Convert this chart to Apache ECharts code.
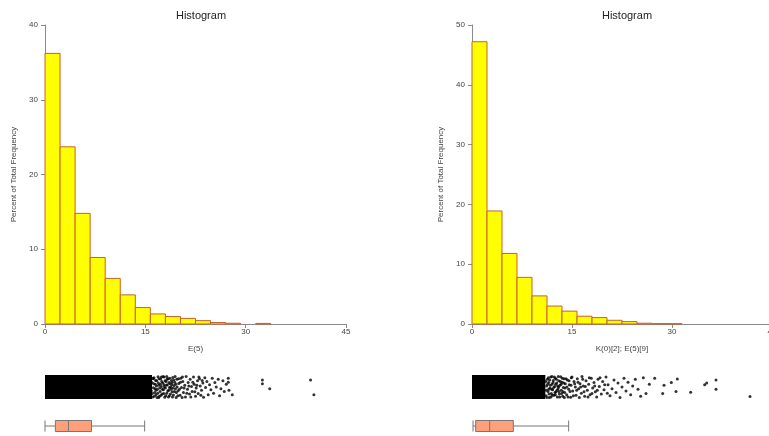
<!DOCTYPE html>
<html>
<head>
<meta charset="utf-8">
<script src="https://cdn.jsdelivr.net/npm/echarts@6/dist/echarts.min.js"></script>
<style>
html,body{margin:0;padding:0;background:#fff;}
#chart{width:769px;height:436px;}
</style>
</head>
<body>
<div id="chart"></div>
<script>
// ---------- DATA ----------
const binEdges = [0, 2.25, 4.5, 6.75, 9, 11.25, 13.5, 15.75, 18, 20.25, 22.5, 24.75, 27, 29.25, 31.5, 33.75];
const leftPercent = [36.2, 23.7, 14.8, 8.9, 6.1, 3.9, 2.2, 1.35, 1.0, 0.75, 0.45, 0.2, 0.1, 0, 0.08];
const rightPercent = [47.2, 18.9, 11.8, 7.8, 4.7, 3.0, 2.15, 1.3, 1.07, 0.62, 0.4, 0.13, 0.06, 0.06];
const xTicks = [0, 15, 30, 45];
const leftYTicks = [0, 10, 20, 30, 40];
const rightYTicks = [0, 10, 20, 30, 40, 50];
const leftXName = 'E(5)';
const rightXName = 'K(0)[2]; E(5)[9]';
const titleText = 'Histogram';
const yName = 'Percent of Total Frequency';

// box plot summaries [min, Q1, median, Q3, upper whisker]
const leftBox = [0, 1.55, 3.5, 6.95, 14.9];
const rightBox = [0.15, 0.55, 2.65, 6.2, 14.5];

// strip plot: the densely overplotted part [start, end], then individual points [value, jitter]
const leftDense = [0, 16.0];
const rightDense = [0, 11.0];
const leftPoints = [
 [15.6,0.12],[15.7,0.55],[15.8,0.83],[15.9,0.33],[16.0,0.70],[16.1,0.05],[16.2,0.47],[16.3,0.92],[16.4,0.25],[16.5,0.62],
 [16.6,0.15],[16.7,0.78],[16.8,0.40],[16.9,0.97],[17.0,0.58],[17.1,0.08],[17.2,0.30],[17.3,0.86],[17.4,0.52],[17.5,0.18],
 [17.6,0.68],[17.7,0.38],[17.8,0.95],[17.9,0.03],[18.0,0.45],[18.1,0.75],[18.2,0.22],[18.3,0.60],[18.4,0.88],[18.5,0.35],
 [18.6,0.10],[18.7,0.65],[18.8,0.50],[18.9,0.80],[19.0,0.28],[19.1,0.93],[19.2,0.14],[19.3,0.57],[19.4,0.72],[19.5,0.42],
 [19.6,0.02],[19.7,0.85],[16.2,0.88],[16.6,0.35],[17.0,0.02],[17.4,0.95],[17.8,0.60],[18.2,0.98],[18.6,0.48],[19.0,0.70],
 [16.05,0.20],[16.15,0.90],[16.25,0.65],[16.35,0.08],[16.45,0.42],[16.55,0.80],[16.65,0.55],[16.75,0.02],[16.85,0.22],[16.95,0.68],
 [17.05,0.88],[17.15,0.45],[17.25,0.62],[17.35,0.12],[17.45,0.75],[17.55,0.40],[17.65,0.98],[17.75,0.20],[17.85,0.50],[17.95,0.78],
 [18.05,0.10],[18.15,0.58],[18.25,0.85],[18.35,0.32],[18.45,0.05],[18.55,0.70],[18.65,0.90],[18.75,0.18],[18.85,0.40],[18.95,0.60],
 [19.05,0.05],[19.15,0.45],[19.25,0.82],[19.35,0.30],[19.45,0.98],[19.55,0.62],[19.65,0.25],[19.75,0.50],[19.85,0.10],[19.95,0.88],
 [20.1,0.40],[20.25,0.72],[20.5,0.02],[20.55,0.95],[20.8,0.45],[21.2,0.22],[21.5,0.55],[21.8,0.05],[22.1,0.72],[22.4,0.28],
 [22.7,0.58],[23.0,0.95],[23.3,0.12],[23.5,0.80],
 [19.9,0.33],[20.0,0.66],[20.2,0.12],[20.3,0.90],[20.4,0.48],[20.6,0.75],[20.7,0.25],[20.9,0.58],[21.0,0.05],[21.1,0.98],
 [21.3,0.40],[21.4,0.70],[21.6,0.18],[21.7,0.85],[21.9,0.52],[22.0,0.30],[22.2,0.95],[22.3,0.62],[22.5,0.08],[22.6,0.45],
 [22.8,0.78],[22.9,0.20],[23.1,0.88],[23.2,0.55],[23.4,0.35],[23.6,0.68],[23.7,0.03],[23.9,0.92],[24.0,0.48],
 [24.2,0.75],[24.4,0.15],[24.6,0.60],[24.8,0.38],[25.0,0.90],[25.2,0.22],[25.4,0.70],[25.6,0.50],[25.9,0.85],[26.1,0.10],
 [26.3,0.42],[26.6,0.78],[26.8,0.30],[27.1,0.62],[27.4,0.90],[27.4,0.72],[27.5,0.35],[28.0,0.15],
 [32.5,0.82],[32.5,0.65],[33.6,0.42],[39.7,0.82],[40.2,0.15]
];
const rightPoints = [
 [11.1,0.10],[11.2,0.55],[11.3,0.85],[11.4,0.30],[11.5,0.70],[11.6,0.02],[11.7,0.45],[11.8,0.95],[11.9,0.20],[12.0,0.62],
 [12.1,0.38],[12.2,0.80],[12.3,0.12],[12.4,0.52],[12.5,0.90],[12.6,0.28],[12.7,0.68],[12.8,0.05],[12.9,0.42],[13.0,0.78],
 [13.1,0.18],[13.2,0.58],[13.3,0.97],[13.4,0.35],[13.5,0.72],[13.6,0.08],[13.7,0.48],[13.8,0.88],[13.9,0.25],[14.0,0.65],
 [14.2,0.15],[14.3,0.82],[14.5,0.40],[14.6,0.60],[14.8,0.03],[14.9,0.92],[11.5,0.40],[12.0,0.98],[12.5,0.15],[13.0,0.50],
 [11.05,0.75],[11.15,0.35],[11.25,0.02],[11.35,0.62],[11.45,0.92],[11.55,0.18],[11.65,0.82],[11.75,0.58],[11.85,0.05],[11.95,0.40],
 [12.05,0.12],[12.15,0.70],[12.25,0.48],[12.35,0.95],[12.45,0.25],[12.55,0.62],[12.65,0.85],[12.75,0.35],[12.85,0.55],[12.95,0.98],
 [13.05,0.30],[13.15,0.05],[13.25,0.75],[13.35,0.62],[13.45,0.20],[13.55,0.90],[13.65,0.28],[13.75,0.68],[13.85,0.02],[13.95,0.45],
 [14.1,0.88],[14.25,0.50],[14.4,0.05],[14.55,0.78],[14.7,0.30],[14.85,0.58],[15.0,0.95],[15.2,0.10],[15.4,0.65],[15.7,0.35],
 [15.9,0.72],[16.1,0.02],[16.3,0.50],[16.6,0.85],[16.8,0.28],[17.0,0.52],[17.4,0.05],[17.6,0.92],[18.0,0.20],[18.4,0.55],
 [18.8,0.35],[19.2,0.92],[19.9,0.60],[20.3,0.22],
 [15.1,0.32],[15.3,0.75],[15.5,0.50],[15.6,0.12],[15.8,0.88],[16.0,0.42],[16.2,0.65],[16.4,0.22],[16.5,0.98],[16.7,0.55],
 [16.9,0.08],[17.1,0.78],[17.3,0.35],[17.5,0.62],[17.7,0.15],[17.9,0.90],[18.1,0.45],[18.3,0.70],[18.5,0.28],[18.7,0.05],
 [18.9,0.85],[19.1,0.52],[19.4,0.18],[19.6,0.75],[19.8,0.38],
 [20.1,0.95],[20.4,0.60],[20.7,0.10],[21.0,0.42],[21.3,0.82],[21.6,0.25],[21.9,0.68],[22.2,0.02],[22.5,0.50],[22.8,0.90],
 [23.1,0.32],[23.4,0.72],[23.8,0.15],[24.1,0.55],[24.5,0.85],[24.9,0.40],[25.3,0.08],[25.7,0.92],[26.1,0.20],[26.6,0.62],
 [27.4,0.90],[28.6,0.21],[28.8,0.58],[29.9,0.70],[30.6,0.30],[30.8,0.86],[32.8,0.26],[34.9,0.60],[35.2,0.68],[36.6,0.82],
 [36.6,0.40],[41.7,0.07]
];

// ---------- BUILD ----------
function bins(percents){
  const out = [];
  for (let i = 0; i < percents.length; i++) out.push([binEdges[i], binEdges[i+1], percents[i]]);
  return out;
}
const FONT = 'Liberation Sans';
const axisGray = '#8a8a8a';
const labelColor = '#444';

function histRender(params, api){
  const h = api.value(2);
  if (!(h > 0)) return null;
  const p0 = api.coord([api.value(0), h]);
  const p1 = api.coord([api.value(1), 0]);
  return {type:'rect', shape:{x:p0[0], y:p0[1], width:p1[0]-p0[0], height:p1[1]-p0[1]},
          style:{fill:'#ffff00', stroke:'#c8602e', lineWidth:1}};
}
function denseRender(params, api){
  const p0 = api.coord([api.value(0), 1.04]);
  const p1 = api.coord([api.value(1), -0.04]);
  return {type:'rect', shape:{x:p0[0], y:p0[1], width:p1[0]-p0[0], height:p1[1]-p0[1]}, style:{fill:'#000'}};
}

const gridBase = {outerBoundsMode:'none', containLabel:false};
const histGrids = [
  Object.assign({left:45, top:25, width:301, height:299}, gridBase),
  Object.assign({left:472, top:25, width:300, height:299}, gridBase)
];
const stripGrids = [
  Object.assign({left:45, top:376, width:301, height:22}, gridBase),
  Object.assign({left:472, top:376, width:300, height:22}, gridBase)
];
const boxGrids = [
  Object.assign({left:45, top:418, width:301, height:16}, gridBase),
  Object.assign({left:472, top:418, width:300, height:16}, gridBase)
];

function histX(gi, name){
  return {type:'value', gridIndex:gi, min:xTicks[0], max:xTicks[xTicks.length-1], interval:15,
    name:name, nameLocation:'middle', nameGap:21,
    nameTextStyle:{fontFamily:FONT, fontSize:8, color:labelColor},
    axisLine:{show:true, lineStyle:{color:axisGray, width:1}},
    axisTick:{show:true, length:4, lineStyle:{color:axisGray}},
    axisLabel:{fontFamily:FONT, fontSize:8, color:labelColor, margin:4, hideOverlap:false},
    splitLine:{show:false}};
}
function histY(gi, ticks){
  return {type:'value', gridIndex:gi, min:ticks[0], max:ticks[ticks.length-1], interval:10, offset:3,
    name:yName, nameLocation:'middle', nameGap:24, nameRotate:90,
    nameTextStyle:{fontFamily:FONT, fontSize:8, color:labelColor},
    axisLine:{show:true, lineStyle:{color:axisGray, width:1}},
    axisTick:{show:true, length:4, lineStyle:{color:axisGray}},
    axisLabel:{fontFamily:FONT, fontSize:8, color:labelColor, margin:4},
    splitLine:{show:false}};
}
function hiddenX(gi){
  return {type:'value', gridIndex:gi, min:xTicks[0], max:xTicks[xTicks.length-1], show:false, splitLine:{show:false}};
}

const option = {
  animation:false,
  backgroundColor:'#fff',
  title:[
    {text:titleText, left:196, top:5, textAlign:'center', textStyle:{fontFamily:FONT, fontSize:11, fontWeight:'normal', color:'#222'}},
    {text:titleText, left:622, top:5, textAlign:'center', textStyle:{fontFamily:FONT, fontSize:11, fontWeight:'normal', color:'#222'}}
  ],
  grid: histGrids.concat(stripGrids, boxGrids),
  xAxis:[
    histX(0, leftXName), histX(1, rightXName),
    hiddenX(2), hiddenX(3), hiddenX(4), hiddenX(5)
  ],
  yAxis:[
    histY(0, leftYTicks), histY(1, rightYTicks),
    {type:'value', gridIndex:2, min:0, max:1, show:false, splitLine:{show:false}},
    {type:'value', gridIndex:3, min:0, max:1, show:false, splitLine:{show:false}},
    {type:'category', gridIndex:4, data:['a'], show:false},
    {type:'category', gridIndex:5, data:['b'], show:false}
  ],
  series:[
    {type:'custom', xAxisIndex:0, yAxisIndex:0, data:bins(leftPercent), encode:{x:[0,1], y:2}, renderItem:histRender},
    {type:'custom', xAxisIndex:1, yAxisIndex:1, data:bins(rightPercent), encode:{x:[0,1], y:2}, renderItem:histRender},
    {type:'custom', xAxisIndex:2, yAxisIndex:2, data:[leftDense], encode:{x:[0,1]}, renderItem:denseRender},
    {type:'custom', xAxisIndex:3, yAxisIndex:3, data:[rightDense], encode:{x:[0,1]}, renderItem:denseRender},
    {type:'scatter', xAxisIndex:2, yAxisIndex:2, data:leftPoints, symbolSize:3, itemStyle:{color:'#000'}},
    {type:'scatter', xAxisIndex:3, yAxisIndex:3, data:rightPoints, symbolSize:3, itemStyle:{color:'#000'}},
    {type:'boxplot', xAxisIndex:4, yAxisIndex:4, data:[leftBox], boxWidth:[11,11],
      itemStyle:{color:'#ffa07a', borderColor:'#777', borderWidth:1}},
    {type:'boxplot', xAxisIndex:5, yAxisIndex:5, data:[rightBox], boxWidth:[11,11],
      itemStyle:{color:'#ffa07a', borderColor:'#777', borderWidth:1}}
  ]
};
const chart = echarts.init(document.getElementById('chart'), null, {renderer:'canvas'});
chart.setOption(option);
</script>
</body>
</html>
